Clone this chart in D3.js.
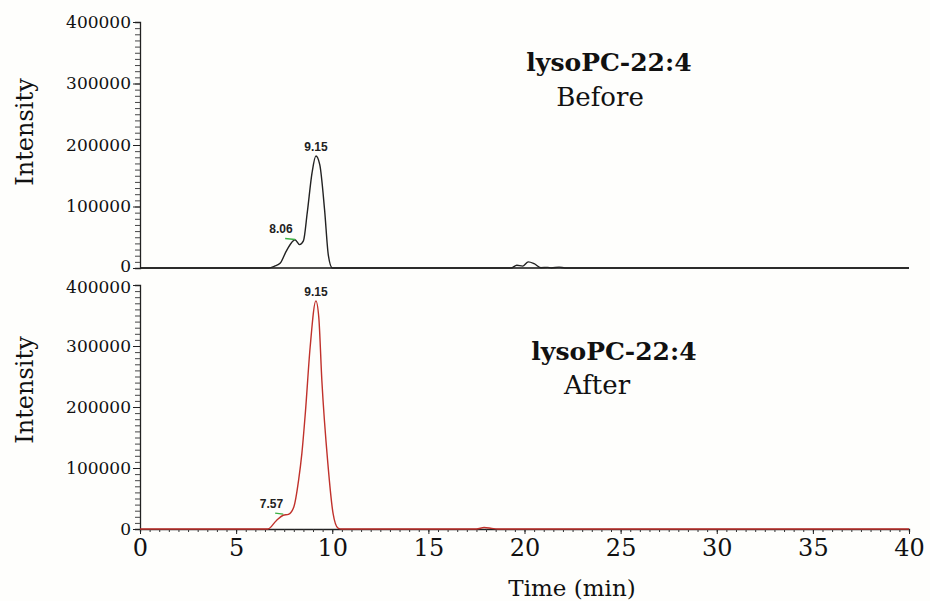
<!DOCTYPE html>
<html lang="en">
  <head>
    <meta charset="utf-8">
    <title>lysoPC-22:4 before / after</title>
    <style type="text/css">
      body{
        margin: 0;
        background: #ffffff;
      }
      svg{
        display: block;
      }
      .tick text{
        font-family: "DejaVu Serif", serif;
        fill: #111;
      }
      .peak{
        font-family: "Liberation Sans", Arial, sans-serif;
        font-size: 12px;
        font-weight: bold;
        fill: #222;
      }
      .title{
        font-family: "DejaVu Serif", serif;
        fill: #111;
      }
    </style>
    <script src="https://cdn.jsdelivr.net/npm/d3@7"></script>
  </head>
  <body>
    <div class="chart"></div>
    <script type="text/javascript">
      var width = 930;
      var height = 601;

      var beforeTime = [0, 6.7, 7.0, 7.3, 7.6, 7.9, 8.06, 8.3, 8.5, 8.7, 8.95, 9.15, 9.35, 9.6, 9.8, 10.0,
        19.3, 19.6, 19.9, 20.2, 20.5, 20.85, 21.2, 21.4, 21.8, 22.1, 40];
      var beforeIntensity = [0, 0, 3000, 8000, 27000, 42000, 46000, 38000, 44000, 90000, 155000, 182000, 168000, 95000, 20000, 0,
        0, 4500, 3000, 10000, 7000, 500, 1000, 0, 1500, 0, 0];

      var afterTime = [0, 6.65, 7.1, 7.45, 7.72, 8.0, 8.25, 8.42, 8.6, 8.85, 9.15, 9.3, 9.46, 9.77, 10.04, 10.3, 10.5,
        17.5, 17.9, 18.3, 18.6, 40];
      var afterIntensity = [0, 0, 14000, 22500, 24000, 36000, 80000, 124000, 190000, 298000, 374000, 347000, 243000, 108000, 26000, 1500, 0,
        0, 2500, 1000, 0, 0];

      //peak labels: time, label height, text
      var beforePeaks = [[9.15, 182000, "9.15"], [8.06, 48000, "8.06"]];
      var afterPeaks = [[9.15, 374000, "9.15"], [7.57, 26000, "7.57"]];

      //green integration marks: start time, end time, level
      var beforeMark = [7.55, 8.07, 48000];
      var afterMark = [7.03, 7.45, 26000];

      var yTicks = [0, 100000, 200000, 300000, 400000];
      var xTicks = [0, 5, 10, 15, 20, 25, 30, 35, 40];

      var svg = d3.select(".chart")
        .append("svg")
        .attr("width", width)
        .attr("height", height);

      svg.append("rect")
        .attr("width", width)
        .attr("height", height)
        .attr("fill", "#fefefc");

      //shared time scale
      var x = d3.scaleLinear()
        .domain([0, 40])
        .range([140, 909]);

      var yTop = d3.scaleLinear()
        .domain([0, 400000])
        .range([268, 22]);

      var yBottom = d3.scaleLinear()
        .domain([0, 400000])
        .range([529, 285]);

      //draws the y axis with minor ticks for a panel
      function drawYAxis(y, shift){
        svg.append("g")
          .attr("transform", "translate(140,0)")
          .call(d3.axisLeft(y).tickValues(d3.range(0, 400001, 10000)).tickSize(5).tickFormat(""))
          .call(g => g.select(".domain").attr("stroke", "#222").attr("stroke-width", 1.3))
          .call(g => g.selectAll(".tick line").attr("stroke", "#444"));

        svg.append("g")
          .attr("transform", "translate(140,0)")
          .call(d3.axisLeft(y).tickValues(yTicks).tickSize(7).tickPadding(2).tickFormat(d3.format("d")))
          .call(g => g.select(".domain").remove())
          .call(g => g.selectAll(".tick line").attr("stroke", "#222"))
          .call(g => g.selectAll(".tick text")
            .style("font-size", "17px")
            .attr("dy", d => d == shift[0] ? shift[1] : "0.32em"));
      }

      //nudge the touching labels ("0" on top, "400000" below) apart a little
      drawYAxis(yTop, [0, "0.2em"]);
      drawYAxis(yBottom, [400000, "0.45em"]);

      //top panel baseline
      svg.append("line")
        .attr("x1", x(0))
        .attr("x2", x(40))
        .attr("y1", yTop(0))
        .attr("y2", yTop(0))
        .attr("stroke", "#111")
        .attr("stroke-width", 1.6);

      //bottom time axis, minor then major ticks
      svg.append("g")
        .attr("transform", `translate(0, ${yBottom(0)})`)
        .call(d3.axisBottom(x).tickValues(d3.range(0, 40.01, 0.5)).tickSize(3).tickFormat(""))
        .call(g => g.select(".domain").attr("stroke", "#222").attr("stroke-width", 1.3))
        .call(g => g.selectAll(".tick line").attr("stroke", "#333"));

      svg.append("g")
        .attr("transform", `translate(0, ${yBottom(0)})`)
        .call(d3.axisBottom(x).tickValues(xTicks).tickSize(5).tickPadding(5))
        .call(g => g.select(".domain").remove())
        .call(g => g.selectAll(".tick line").attr("stroke", "#222"))
        .call(g => g.selectAll(".tick text").style("font-size", "24px"));

      //axis titles
      svg.append("text")
        .attr("class", "title")
        .attr("x", 572)
        .attr("y", 596)
        .attr("text-anchor", "middle")
        .style("font-size", "23px")
        .text("Time (min)");

      var intensityCentres = [132, 390];
      intensityCentres.forEach(function(cy){
        svg.append("text")
          .attr("class", "title")
          .attr("transform", `translate(33, ${cy}) rotate(-90)`)
          .attr("text-anchor", "middle")
          .style("font-size", "24px")
          .text("Intensity");
      });

      //draw one chromatogram trace with its labels
      function drawTrace(times, values, y, color, peaks, mark){
        var line = d3.line()
          .x(d => x(d[0]))
          .y(d => y(d[1]))
          .curve(d3.curveMonotoneX);

        svg.append("path")
          .datum(d3.zip(times, values))
          .attr("d", line)
          .attr("fill", "none")
          .attr("stroke", color)
          .attr("stroke-width", 1.4);

        svg.append("line")
          .attr("x1", x(mark[0]))
          .attr("x2", x(mark[1]))
          .attr("y1", y(mark[2]))
          .attr("y2", y(mark[2]) + 1)
          .attr("stroke", "#3cb043")
          .attr("stroke-width", 1.3);

        svg.selectAll(null)
          .data(peaks)
          .enter()
          .append("text")
          .attr("class", "peak")
          .attr("x", (d, i) => i == 0 ? x(d[0]) : x(d[0]) - 14)
          .attr("y", d => y(d[1]) - 5)
          .attr("text-anchor", "middle")
          .text(d => d[2]);
      }

      drawTrace(beforeTime, beforeIntensity, yTop, "#222", beforePeaks, beforeMark);
      drawTrace(afterTime, afterIntensity, yBottom, "#c0312b", afterPeaks, afterMark);

      //panel titles
      var titles = [
        ["lysoPC-22:4", 609, 71, "bold"],
        ["Before", 600, 106, "normal"],
        ["lysoPC-22:4", 614, 360, "bold"],
        ["After", 597, 394, "normal"]
      ];

      svg.selectAll(null)
        .data(titles)
        .enter()
        .append("text")
        .attr("class", "title")
        .attr("x", d => d[1])
        .attr("y", d => d[2])
        .attr("text-anchor", "middle")
        .style("font-size", d => d[3] == "bold" ? "25px" : "26px")
        .style("font-weight", d => d[3])
        .text(d => d[0]);
    </script>
  </body>
</html>
